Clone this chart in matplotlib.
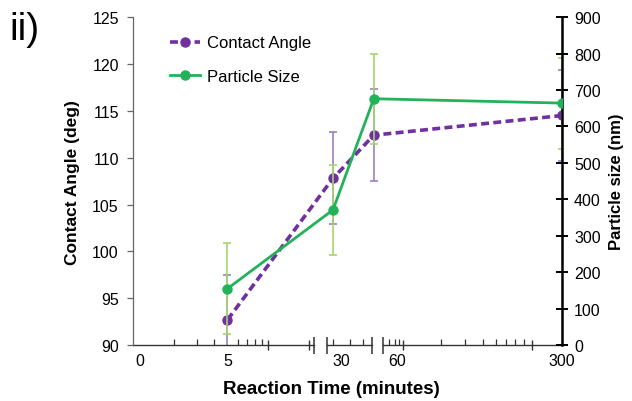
import numpy as np
import matplotlib
matplotlib.use("Agg")
import matplotlib.pyplot as plt

plt.rcParams['font.family'] = ['Liberation Sans', 'DejaVu Sans']

# reaction times (minutes)
times = [5, 30, 60, 300]

# contact angle (deg) with error
contact_angle = [92.7, 107.8, 112.4, 114.5]
contact_err = [4.8, 4.9, 4.9, 4.9]

# particle size (nm) with error
particle_size = [155, 371, 676, 664]
particle_err = [125, 124, 123, 125]

x_tick_labels = ['0', '5', '30', '60', '300']

purple = '#7030a0'
purple_err = '#9a82c0'
green = '#22b35a'
green_err = '#a6d46e'

# broken time axis: log up to 60 min, stretched log after that
LOG60 = np.log10(60)
K = 1.989


def forward(t):
    t = np.clip(np.asarray(t, dtype=float), 1e-6, None)
    return np.where(t <= 60, np.log10(t), LOG60 + K * np.log10(t / 60))


def inverse(u):
    u = np.asarray(u, dtype=float)
    return np.where(u <= LOG60, 10 ** u, 60 * 10 ** ((u - LOG60) / K))


fig = plt.figure(figsize=(6.32, 4.02), dpi=100)
ax = fig.add_axes([0.21, 0.139, 0.6797, 0.816])
ax2 = ax.twinx()

ax.set_xscale('function', functions=(forward, inverse))
ax.set_xlim(1, 300)
ax.set_ylim(90, 125)
ax2.set_ylim(0, 900)

ax.errorbar(times, contact_angle, yerr=contact_err, fmt='none', ecolor=purple_err,
            elinewidth=1.2, capsize=3, capthick=1.2, zorder=2)
ax.plot(times, contact_angle, color=purple, lw=2.6, ls=(0, (2.2, 1.2)),
        marker='o', ms=6.5, label='Contact Angle', zorder=3)

ax2.errorbar(times, particle_size, yerr=particle_err, fmt='none', ecolor=green_err,
             elinewidth=1.2, capsize=3, capthick=1.2, zorder=2)
ax2.plot(times, particle_size, color=green, lw=2, marker='o', ms=6.5,
         label='Particle Size', zorder=3)

# tick labels (positions in axis decades)
label_u = [0.049, 0.699, 1.536, 1.949, 3.168]
ax.set_xticks(inverse(label_u))
ax.set_xticklabels(x_tick_labels, fontsize=11.5)
ax.tick_params(axis='x', which='major', length=0, pad=6)

# small inward ticks
minor_u = [np.log10(v) for v in [2, 3, 4, 5, 6, 7, 8, 9, 30, 40, 50]]
minor_u += [1.893, 1.933, 1.967, 2.277, 2.454, 2.580, 2.676, 2.755, 2.823, 2.885]
ax.set_xticks(inverse(minor_u), minor=True)
ax.tick_params(axis='x', which='minor', direction='in', length=4, width=0.9, color='#333333')

xt = ax.get_xaxis_transform()
# crossing ticks
cross_u = [1.0, np.log10(20), 1.996, 2.947]
ax.vlines(inverse(cross_u), -0.016, 0.016, transform=xt, color='#333333', lw=1, clip_on=False)
# break marks
break_u = [1.339, 1.431, 1.7625, 1.848]
ax.vlines(inverse(break_u), -0.026, 0.026, transform=xt, color='#333333', lw=1.1, clip_on=False)
# axis line pieces between breaks
seg_u = [(0, 1.339), (1.431, 1.7625), (1.848, 3.168)]
for a, b in seg_u:
    ax.plot(inverse([a, b]), [0, 0], transform=xt, color='#333333', lw=1, clip_on=False)

for s in ['top', 'bottom', 'right']:
    ax.spines[s].set_visible(False)
for s in ['top', 'bottom', 'left']:
    ax2.spines[s].set_visible(False)
ax.spines['left'].set_color('#666666')
ax.spines['left'].set_linewidth(0.9)
ax2.spines['right'].set_linewidth(1.8)

ax.set_yticks(np.arange(90, 126, 5))
ax.tick_params(axis='y', direction='out', length=4, width=0.9, color='#666666',
               labelsize=11.5, pad=6)
ax2.set_yticks(np.arange(0, 901, 100))
ax2.tick_params(axis='y', direction='inout', length=9, width=1.4, labelsize=11.5, pad=4)

ax.set_ylabel('Contact Angle (deg)', fontsize=12.5, fontweight='bold', labelpad=9)
ax2.set_ylabel('Particle size (nm)', fontsize=12, fontweight='bold', labelpad=6)
ax.set_xlabel('Reaction Time (minutes)', fontsize=13.5, fontweight='bold')
ax.xaxis.set_label_coords(0.4616, -0.105)

h1, l1 = ax.get_legend_handles_labels()
h2, l2 = ax2.get_legend_handles_labels()
ax2.legend(h1 + h2, l1 + l2, loc='upper left', bbox_to_anchor=(0.052, 0.99),
           frameon=False, fontsize=12, handlelength=1.8, labelspacing=1.1,
           handletextpad=0.4)

fig.text(0.015, 0.97, 'ii)', fontsize=28, va='top', ha='left')

fig.savefig('out.png', dpi=100)
